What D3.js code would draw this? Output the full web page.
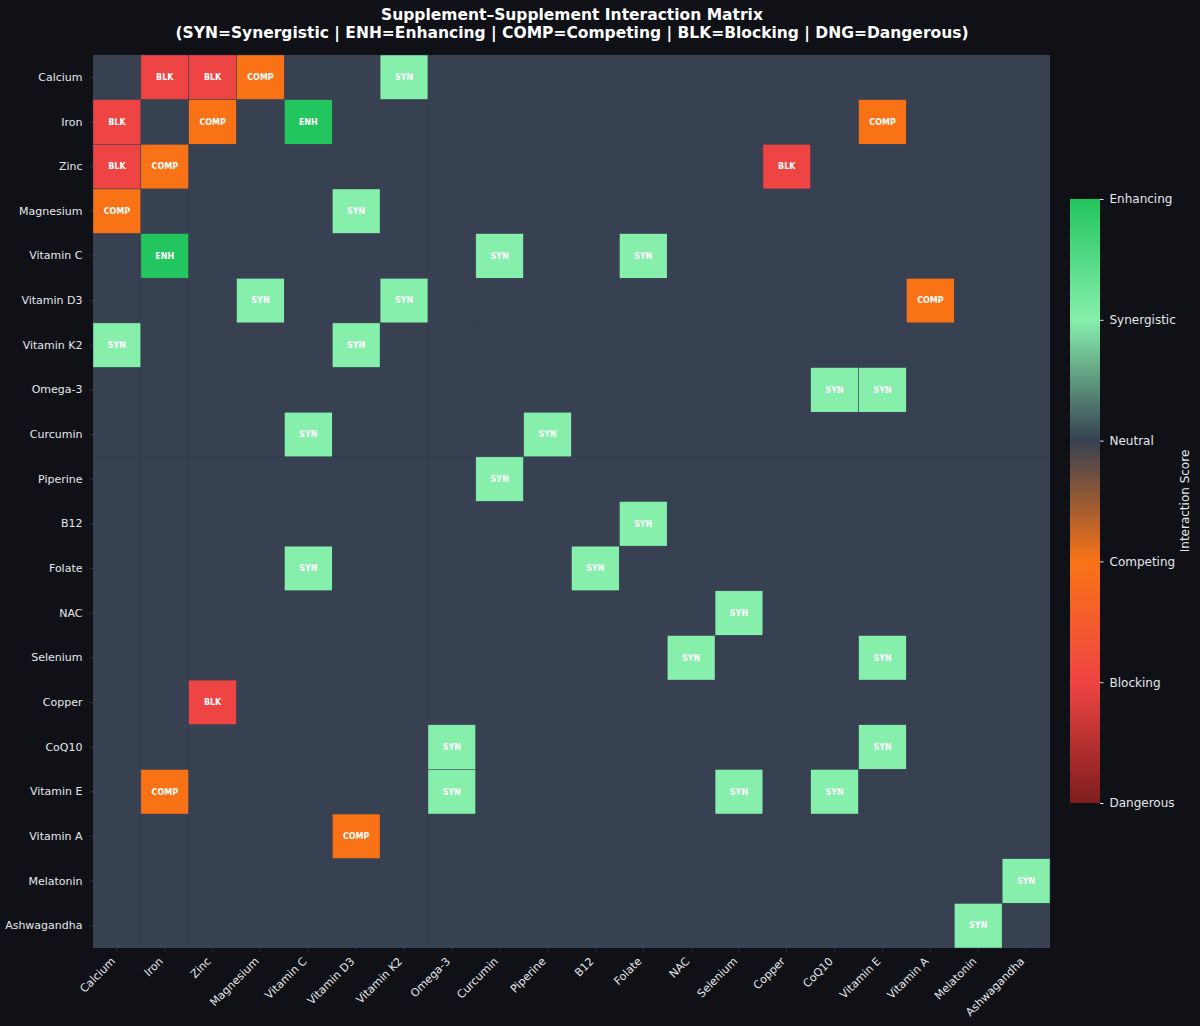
<!DOCTYPE html>
<html>
<head>
<meta charset="utf-8">
<script src="https://cdn.jsdelivr.net/npm/d3@7"></script>
<style>
  html, body { margin: 0; padding: 0; background: #0f1117; }
  svg { display: block; font-family: "DejaVu Sans", sans-serif; }
</style>
</head>
<body>
<svg id="chart" width="1200" height="1026"></svg>
<script>
// Supplements (rows and columns share the same order)
const supplements = ['Calcium', 'Iron', 'Zinc', 'Magnesium', 'Vitamin C', 'Vitamin D3',
  'Vitamin K2', 'Omega-3', 'Curcumin', 'Piperine', 'B12', 'Folate', 'NAC', 'Selenium',
  'Copper', 'CoQ10', 'Vitamin E', 'Vitamin A', 'Melatonin', 'Ashwagandha'];

// Interaction levels
const levelNames = ['Dangerous', 'Blocking', 'Competing', 'Neutral', 'Synergistic', 'Enhancing'];
const levelScores = [-3, -2, -1, 0, 1, 2];
const levelCodes = ['DNG', 'BLK', 'COMP', '', 'SYN', 'ENH'];
const levelColors = ['#7f1d1d', '#ef4444', '#f97316', '#374151', '#86efac', '#22c55e'];

// Non-neutral cells: [row supplement, column supplement, code]
const interactions = [
  ['Calcium', 'Iron', 'BLK'], ['Calcium', 'Zinc', 'BLK'], ['Calcium', 'Magnesium', 'COMP'], ['Calcium', 'Vitamin K2', 'SYN'],
  ['Iron', 'Calcium', 'BLK'], ['Iron', 'Zinc', 'COMP'], ['Iron', 'Vitamin C', 'ENH'], ['Iron', 'Vitamin E', 'COMP'],
  ['Zinc', 'Calcium', 'BLK'], ['Zinc', 'Iron', 'COMP'], ['Zinc', 'Copper', 'BLK'],
  ['Magnesium', 'Calcium', 'COMP'], ['Magnesium', 'Vitamin D3', 'SYN'],
  ['Vitamin C', 'Iron', 'ENH'], ['Vitamin C', 'Curcumin', 'SYN'], ['Vitamin C', 'Folate', 'SYN'],
  ['Vitamin D3', 'Magnesium', 'SYN'], ['Vitamin D3', 'Vitamin K2', 'SYN'], ['Vitamin D3', 'Vitamin A', 'COMP'],
  ['Vitamin K2', 'Calcium', 'SYN'], ['Vitamin K2', 'Vitamin D3', 'SYN'],
  ['Omega-3', 'CoQ10', 'SYN'], ['Omega-3', 'Vitamin E', 'SYN'],
  ['Curcumin', 'Vitamin C', 'SYN'], ['Curcumin', 'Piperine', 'SYN'],
  ['Piperine', 'Curcumin', 'SYN'],
  ['B12', 'Folate', 'SYN'],
  ['Folate', 'Vitamin C', 'SYN'], ['Folate', 'B12', 'SYN'],
  ['NAC', 'Selenium', 'SYN'],
  ['Selenium', 'NAC', 'SYN'], ['Selenium', 'Vitamin E', 'SYN'],
  ['Copper', 'Zinc', 'BLK'],
  ['CoQ10', 'Omega-3', 'SYN'], ['CoQ10', 'Vitamin E', 'SYN'],
  ['Vitamin E', 'Iron', 'COMP'], ['Vitamin E', 'Omega-3', 'SYN'], ['Vitamin E', 'Selenium', 'SYN'], ['Vitamin E', 'CoQ10', 'SYN'],
  ['Vitamin A', 'Vitamin D3', 'COMP'],
  ['Melatonin', 'Ashwagandha', 'SYN'],
  ['Ashwagandha', 'Melatonin', 'SYN']
];

const svg = d3.select('#chart');
const margin = { left: 93, top: 55, right: 1050, bottom: 948 };

// Build the full grid, neutral by default
const lookup = new Map(interactions.map(d => [d[0] + '|' + d[1], d[2]]));
const cells = [];
supplements.forEach(r => supplements.forEach(c => {
  const code = lookup.get(r + '|' + c) || '';
  cells.push({ row: r, col: c, code: code, score: levelScores[levelCodes.indexOf(code)] });
}));

const x = d3.scaleBand().domain(supplements).range([margin.left, margin.right]);
const y = d3.scaleBand().domain(supplements).range([margin.top, margin.bottom]);
const color = d3.scaleLinear().domain(levelScores).range(levelColors).clamp(true);

// Title
const title = svg.append('text')
  .attr('x', 572).attr('y', 20)
  .attr('text-anchor', 'middle')
  .attr('fill', '#ffffff')
  .style('font-size', '15.5px')
  .style('font-weight', 'bold');
title.append('tspan').attr('x', 572).text('Supplement\u2013Supplement Interaction Matrix');
title.append('tspan').attr('x', 572).attr('dy', 17.5)
  .text('(SYN=Synergistic | ENH=Enhancing | COMP=Competing | BLK=Blocking | DNG=Dangerous)');

// Neutral backing so anti-aliased seams between cells disappear
svg.append('rect')
  .attr('x', margin.left).attr('y', margin.top)
  .attr('width', margin.right - margin.left)
  .attr('height', margin.bottom - margin.top)
  .attr('fill', color(0));

// Cells
svg.append('g').selectAll('rect')
  .data(cells)
  .join('rect')
  .attr('x', d => x(d.col))
  .attr('y', d => y(d.row))
  .attr('width', x.bandwidth())
  .attr('height', y.bandwidth())
  .attr('fill', d => color(d.score))
  .attr('stroke', d => d.code ? '#374151' : 'none')
  .attr('stroke-width', 0.5);

// Cell labels
svg.append('g').selectAll('text')
  .data(cells.filter(d => d.code))
  .join('text')
  .attr('x', d => x(d.col) + x.bandwidth() / 2)
  .attr('y', d => y(d.row) + y.bandwidth() / 2)
  .attr('dy', '0.35em')
  .attr('text-anchor', 'middle')
  .attr('fill', '#ffffff')
  .style('font-size', '8px')
  .style('font-weight', 'bold')
  .text(d => d.code);

// Axes
const yAxis = svg.append('g')
  .attr('transform', `translate(${margin.left},0)`)
  .call(d3.axisLeft(y).tickSize(3.5).tickPadding(7));
yAxis.select('.domain').remove();
yAxis.selectAll('line').attr('stroke', '#2b2f3a');
yAxis.selectAll('text').attr('fill', '#e5e7eb').style('font-size', '11px')
  .style('font-family', '"DejaVu Sans", sans-serif');

const xAxis = svg.append('g')
  .attr('transform', `translate(0,${margin.bottom})`)
  .call(d3.axisBottom(x).tickSize(3.5).tickPadding(5));
xAxis.select('.domain').remove();
xAxis.selectAll('line').attr('stroke', '#2b2f3a');
xAxis.selectAll('text')
  .attr('fill', '#e5e7eb')
  .style('font-size', '11px')
  .style('font-family', '"DejaVu Sans", sans-serif')
  .attr('text-anchor', 'end')
  .attr('x', 0).attr('y', 0).attr('dy', 0)
  .attr('transform', 'translate(-1,14) rotate(-45)');

// Colour bar
const cbX = 1070, cbW = 30, cbTop = 199, cbBottom = 803;
const cbScale = d3.scaleLinear().domain([d3.min(levelScores), d3.max(levelScores)]).range([cbBottom, cbTop]);
const defs = svg.append('defs');
const grad = defs.append('linearGradient').attr('id', 'cbgrad')
  .attr('x1', 0).attr('y1', 1).attr('x2', 0).attr('y2', 0);
grad.selectAll('stop')
  .data(levelScores)
  .join('stop')
  .attr('offset', d => (d - levelScores[0]) / (levelScores[levelScores.length - 1] - levelScores[0]))
  .attr('stop-color', d => color(d));
svg.append('rect')
  .attr('x', cbX).attr('y', cbTop)
  .attr('width', cbW).attr('height', cbBottom - cbTop)
  .attr('fill', 'url(#cbgrad)');

const cbAxis = svg.append('g')
  .attr('transform', `translate(${cbX + cbW},0)`)
  .call(d3.axisRight(cbScale).tickValues(levelScores).tickSize(3.5).tickPadding(6)
    .tickFormat((d, i) => levelNames[i]));
cbAxis.select('.domain').remove();
cbAxis.selectAll('line').attr('stroke', '#e5e7eb');
cbAxis.selectAll('text').attr('fill', '#e5e7eb').style('font-size', '12px')
  .style('font-family', '"DejaVu Sans", sans-serif');

svg.append('text')
  .attr('transform', 'translate(1189,501) rotate(-90)')
  .attr('text-anchor', 'middle')
  .attr('fill', '#e5e7eb')
  .style('font-size', '12px')
  .text('Interaction Score');
</script>
</body>
</html>
